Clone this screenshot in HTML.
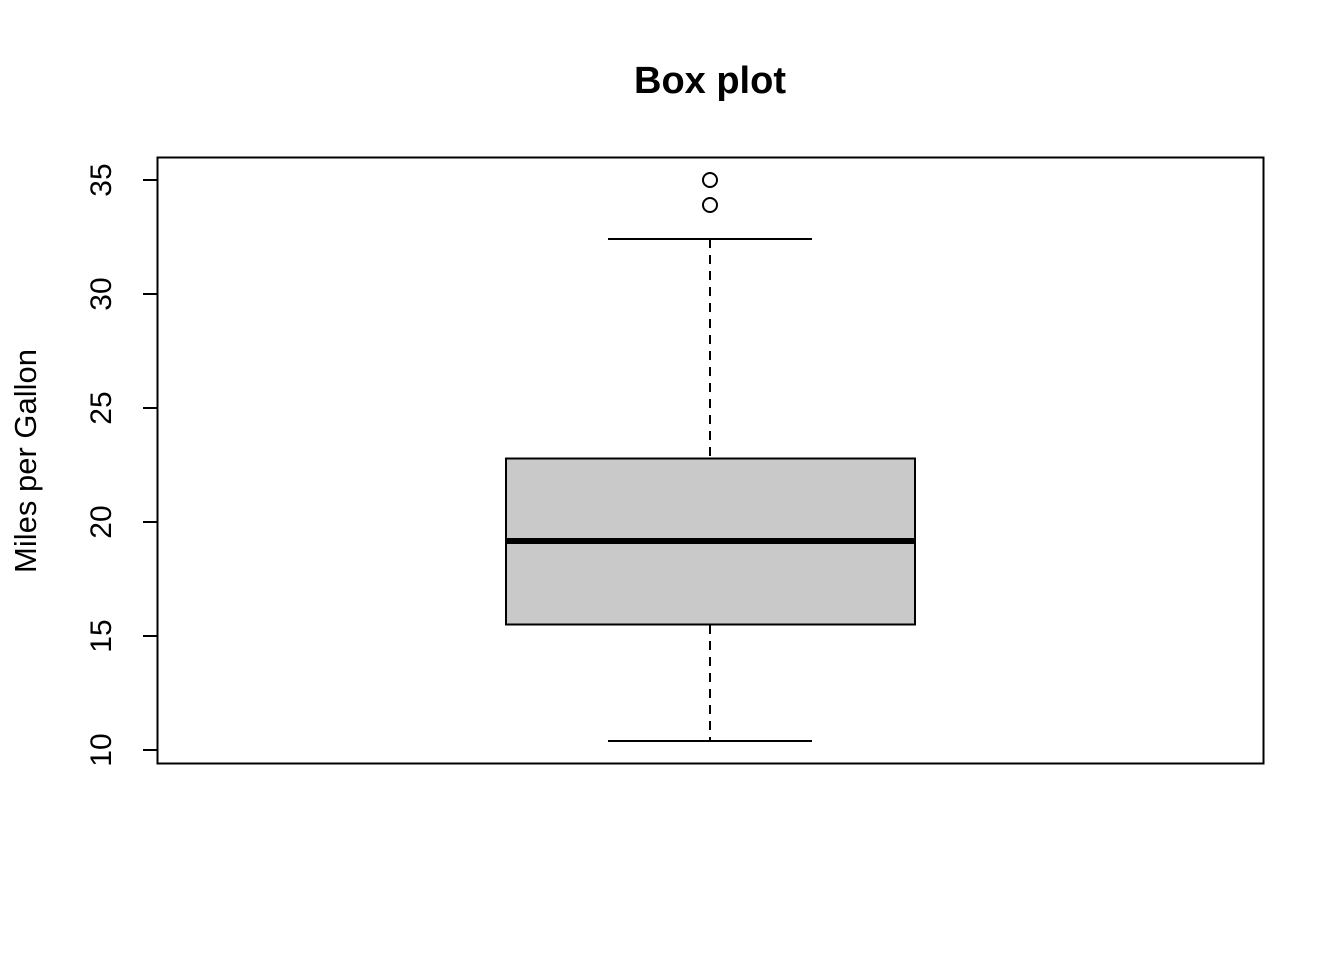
<!DOCTYPE html>
<html><head><meta charset="utf-8"><style>
html,body{margin:0;padding:0;background:#fff;}
svg{display:block;}
text{font-family:"Liberation Sans",Arial,sans-serif;fill:#000;}
</style></head><body>
<svg width="1344" height="960" viewBox="0 0 1344 960" xmlns="http://www.w3.org/2000/svg">
<rect width="1344" height="960" fill="#fff"/>
<text x="710" y="93" font-size="38" font-weight="bold" text-anchor="middle">Box plot</text>
<rect x="157.5" y="157.5" width="1106" height="606" fill="none" stroke="#000" stroke-width="2"/>
<g stroke="#000" stroke-width="2">
<line x1="157" y1="180" x2="143" y2="180"/>
<line x1="157" y1="294" x2="143" y2="294"/>
<line x1="157" y1="408" x2="143" y2="408"/>
<line x1="157" y1="522" x2="143" y2="522"/>
<line x1="157" y1="636" x2="143" y2="636"/>
<line x1="157" y1="750" x2="143" y2="750"/>
</g>
<g font-size="30" text-anchor="middle">
<text transform="translate(111,180) rotate(-90)">35</text>
<text transform="translate(111,294) rotate(-90)">30</text>
<text transform="translate(111,408) rotate(-90)">25</text>
<text transform="translate(111,522) rotate(-90)">20</text>
<text transform="translate(111,636) rotate(-90)">15</text>
<text transform="translate(111,750) rotate(-90)">10</text>
</g>
<text transform="translate(36,461) rotate(-90)" font-size="31" text-anchor="middle">Miles per Gallon</text>
<g stroke="#000" stroke-width="2">
<line x1="710" y1="239" x2="710" y2="458" stroke-dasharray="9,7"/>
<line x1="710" y1="625" x2="710" y2="741" stroke-dasharray="9,7"/>
<line x1="608" y1="239" x2="812" y2="239"/>
<line x1="608" y1="741" x2="812" y2="741"/>
</g>
<rect x="506" y="458.5" width="409" height="166" fill="#c9c9c9" stroke="#000" stroke-width="2"/>
<line x1="506" y1="541" x2="915" y2="541" stroke="#000" stroke-width="6"/>
<circle cx="710" cy="180" r="7" fill="none" stroke="#000" stroke-width="2"/>
<circle cx="710" cy="205" r="7" fill="none" stroke="#000" stroke-width="2"/>
</svg>
</body></html>
